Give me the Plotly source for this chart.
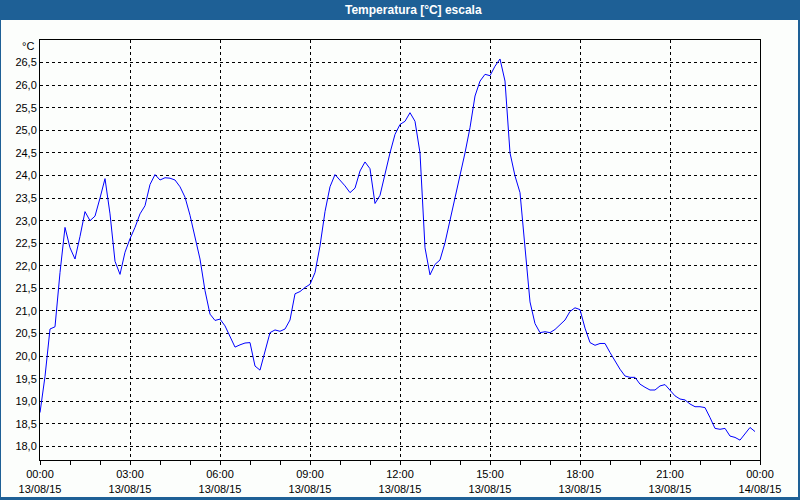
import pandas as pd
import plotly.graph_objects as go

# ---- data (10-minute readings, 13/08/15) ----
start_time = "2015-08-13 00:00"
temps = [
    18.75, 19.55, 20.60, 20.65, 21.85, 22.85, 22.40, 22.15, 22.65, 23.20,
    23.00, 23.10, 23.50, 23.93, 23.15, 22.10, 21.81, 22.30, 22.60, 22.85,
    23.15, 23.33, 23.80, 24.02, 23.90, 23.95, 23.94, 23.90, 23.75, 23.52,
    23.12, 22.65, 22.15, 21.45, 20.93, 20.79, 20.82, 20.67, 20.45, 20.20,
    20.25, 20.29, 20.30, 19.78, 19.69, 20.08, 20.52, 20.58, 20.55, 20.60,
    20.80, 21.38, 21.43, 21.52, 21.59, 21.85, 22.44, 23.20, 23.75, 24.02,
    23.90, 23.77, 23.62, 23.72, 24.10, 24.30, 24.15, 23.38, 23.56, 24.06,
    24.50, 24.91, 25.13, 25.20, 25.39, 25.20, 24.50, 22.40, 21.80, 22.03,
    22.13, 22.51, 22.99, 23.51, 23.99, 24.50, 25.06, 25.76, 26.09, 26.24,
    26.21, 26.42, 26.58, 26.09, 24.50, 23.99, 23.62, 22.44, 21.20, 20.72,
    20.52, 20.54, 20.52, 20.59, 20.70, 20.80, 20.99, 21.07, 21.03, 20.62,
    20.30, 20.24, 20.28, 20.28, 20.08, 19.89, 19.71, 19.56, 19.53, 19.53,
    19.38, 19.31, 19.25, 19.25, 19.34, 19.37, 19.25, 19.12, 19.05, 19.03,
    18.94, 18.88, 18.88, 18.86, 18.64, 18.40, 18.38, 18.40, 18.23, 18.20,
    18.14, 18.29, 18.42, 18.33,
]
times = pd.date_range(start_time, periods=len(temps), freq="10min")

x_tick_vals = ["2015-08-13 00:00", "2015-08-13 03:00", "2015-08-13 06:00",
               "2015-08-13 09:00", "2015-08-13 12:00", "2015-08-13 15:00",
               "2015-08-13 18:00", "2015-08-13 21:00", "2015-08-14 00:00"]
x_tick_text = ["00:00<br>13/08/15", "03:00<br>13/08/15", "06:00<br>13/08/15",
               "09:00<br>13/08/15", "12:00<br>13/08/15", "15:00<br>13/08/15",
               "18:00<br>13/08/15", "21:00<br>13/08/15", "00:00<br>14/08/15"]
y_tick_vals = [18.0, 18.5, 19.0, 19.5, 20.0, 20.5, 21.0, 21.5, 22.0,
               22.5, 23.0, 23.5, 24.0, 24.5, 25.0, 25.5, 26.0, 26.5]
y_tick_text = ["18,0", "18,5", "19,0", "19,5", "20,0", "20,5", "21,0", "21,5", "22,0",
               "22,5", "23,0", "23,5", "24,0", "24,5", "25,0", "25,5", "26,0", "26,5"]
title_text = "Temperatura [°C] escala"
unit_text = "°C"

# ---- figure ----
W, H = 800, 500
L, R, T, B = 40, 40, 40, 40
PW, PH = W - L - R, H - T - B
BLUE = "#1e6096"
BG = "#fcfefc"
FONT = "Liberation Sans"


def px_x(px):
    return (px - L) / PW


def px_y(py):
    return (H - B - py) / PH


fig = go.Figure()
fig.add_trace(go.Scatter(x=times, y=temps, mode="lines",
                         line=dict(color="#0000ff", width=1),
                         hoverinfo="skip", showlegend=False))

grid = dict(showgrid=True, gridcolor="black", gridwidth=1, griddash="3px,3px",
            showline=True, linecolor="black", linewidth=1, mirror=True,
            zeroline=False, automargin=False,
            tickfont=dict(family=FONT, size=11, color="black"))

fig.update_xaxes(type="date", range=["2015-08-13 00:00", "2015-08-14 00:00"],
                 tickvals=x_tick_vals, ticktext=x_tick_text,
                 ticks="outside", ticklen=4, tickcolor="black", tickwidth=1,
                 minor=dict(dtick=3600000, ticks="outside", ticklen=4,
                            tickcolor="black", showgrid=False),
                 **grid)
fig.update_yaxes(range=[17.7, 27.0], tickvals=y_tick_vals, ticktext=y_tick_text,
                 ticks="", **grid)

fig.update_layout(
    width=W, height=H, margin=dict(l=L, r=R, t=T, b=B, pad=0, autoexpand=False),
    paper_bgcolor=BG, plot_bgcolor=BG,
    font=dict(family=FONT, size=11, color="black"),
    shapes=[
        dict(type="rect", xref="paper", yref="paper", x0=px_x(0), x1=px_x(800),
             y0=px_y(20), y1=px_y(0), fillcolor=BLUE, line=dict(width=0), layer="above"),
        dict(type="rect", xref="paper", yref="paper", x0=px_x(0), x1=px_x(1),
             y0=px_y(500), y1=px_y(0), fillcolor=BLUE, line=dict(width=0), layer="above"),
        dict(type="rect", xref="paper", yref="paper", x0=px_x(798), x1=px_x(800),
             y0=px_y(500), y1=px_y(0), fillcolor=BLUE, line=dict(width=0), layer="above"),
        dict(type="rect", xref="paper", yref="paper", x0=px_x(0), x1=px_x(800),
             y0=px_y(500), y1=px_y(497), fillcolor=BLUE, line=dict(width=0), layer="above"),
    ],
    annotations=[
        dict(text="<b>" + title_text + "</b>", xref="paper", yref="paper",
             x=px_x(413), y=px_y(10), xanchor="center", yanchor="middle",
             showarrow=False, font=dict(family=FONT, size=12, color="white")),
        dict(text=unit_text, xref="paper", yref="paper",
             x=px_x(36), y=px_y(46), xanchor="right", yanchor="middle",
             showarrow=False, font=dict(family=FONT, size=11, color="black")),
    ],
)

fig.write_html("out.html", config={"displayModeBar": False})
